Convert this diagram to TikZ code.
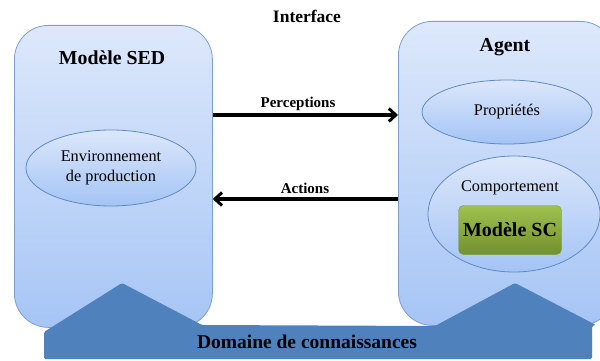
\documentclass[tikz,border=0pt]{standalone}
\usepackage{fontspec}
\setmainfont{Liberation Serif}
\usetikzlibrary{arrows.meta,shapes.geometric}
\definecolor{boxtop}{HTML}{DDE8FB}
\definecolor{boxbot}{HTML}{A6C5F5}
\definecolor{boxline}{HTML}{7A9FD2}
\definecolor{elltop}{HTML}{DCE7FB}
\definecolor{ellbot}{HTML}{A4C4F5}
\definecolor{ellline}{HTML}{5F8AC6}
\definecolor{banner}{HTML}{4F81BD}
\definecolor{sctop}{HTML}{9EC14F}
\definecolor{scbot}{HTML}{73912F}
\begin{document}
\begin{tikzpicture}[x=1pt,y=-1pt,
  bigbox/.style={draw=boxline, line width=0.8pt, rounded corners=34pt, top color=boxtop, bottom color=boxbot, anchor=north west, inner sep=0pt},
  ell/.style={ellipse, draw=ellline, line width=0.8pt, top color=elltop, bottom color=ellbot, inner sep=0pt, align=center, font=\fontsize{16.3}{18}\selectfont},
  title/.style={font=\bfseries\fontsize{19.8}{22}\selectfont},
  lbl/.style={font=\bfseries\fontsize{15}{17}\selectfont},
  flow/.style={line width=3.2pt, -{Straight Barb[length=7pt,width=13pt,line width=3pt]}}
]
\useasboundingbox (0,0) rectangle (600,361);
% main boxes
\node[bigbox, minimum width=198pt, minimum height=302pt] (sed) at (14,25) {};
\node[bigbox, minimum width=216pt, minimum height=304pt] (agent) at (398,21) {};
% titles
\node[title] (sedt) at (112,58) {Modèle SED};
\node[title] (agentt) at (505,47) {Agent};
\node[font=\bfseries\fontsize{17.5}{20}\selectfont] (itf) at (307,16) {Interface};
% ellipses
\node[ell, minimum width=170pt, minimum height=76pt] (env) at (111,168) {Environnement\\[2pt]de production};
\node[ell, minimum width=170pt, minimum height=64pt] (prop) at (507,112) {Propriétés};
\node[ell, minimum width=172pt, minimum height=116pt] (comp) at (514,214) {};
\node[font=\fontsize{16.3}{18}\selectfont] (compt) at (510,188) {Comportement};
\node[draw=sctop!80!black, line width=0.4pt, rounded corners=5pt, top color=sctop, bottom color=scbot, minimum width=103pt, minimum height=49pt, inner sep=0pt, font=\bfseries\fontsize{20}{22}\selectfont] (sc) at (510,230) {Modèle SC};
% flows
\coordinate (py) at (300,115);
\coordinate (ay) at (300,199);
\draw[flow] (sed.east |- py) -- (agent.west |- py);
\draw[flow] (agent.west |- ay) -- (sed.east |- ay);
\node[lbl] (perc) at (298,104) {Perceptions};
\node[lbl] (act) at (305,188) {Actions};
% banner
\fill[banner, rounded corners=1.5pt] (44,359) -- (44,332) -- (122,283) -- (202,325) -- (435,326) -- (515,283) -- (596,325) -- (592,326) -- (592,359) -- cycle;
\node[font=\bfseries\fontsize{19.5}{22}\selectfont] (dom) at (307,342) {Domaine de connaissances};
\end{tikzpicture}
\end{document}
